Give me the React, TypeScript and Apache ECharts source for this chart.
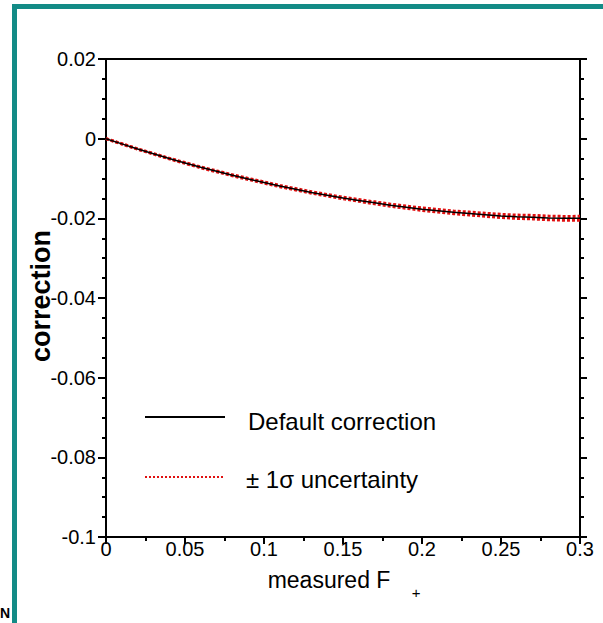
import React, { useEffect, useRef } from "react";
import * as echarts from "echarts";

const xValues = [0, 0.01, 0.02, 0.03, 0.04, 0.05, 0.06, 0.07, 0.08, 0.09, 0.1, 0.11, 0.12, 0.13, 0.14, 0.15, 0.16, 0.17, 0.18, 0.19, 0.2, 0.21, 0.22, 0.23, 0.24, 0.25, 0.26, 0.27, 0.28, 0.29, 0.3];
const correction = [0, -0.0013, -0.0026, -0.0038, -0.005, -0.0061, -0.0072, -0.0082, -0.0092, -0.0101, -0.011, -0.0119, -0.0127, -0.0135, -0.0142, -0.0149, -0.0155, -0.0161, -0.0167, -0.0172, -0.0177, -0.0181, -0.0185, -0.0188, -0.0191, -0.0194, -0.0196, -0.0197, -0.0199, -0.02, -0.02];
const sigma = [0, 0.00003, 0.00005, 0.00007, 0.00008, 0.0001, 0.00011, 0.00012, 0.00013, 0.00014, 0.00015, 0.00016, 0.00017, 0.00018, 0.00019, 0.0002, 0.00022, 0.00024, 0.00026, 0.00028, 0.0003, 0.00032, 0.00034, 0.00036, 0.00038, 0.0004, 0.00042, 0.00044, 0.00046, 0.00048, 0.0005];
const legendLabels = ["Default correction", "\u00b1 1\u03c3 uncertainty"];
const xTitle = "measured F";
const yTitle = "correction";

const FONT = "'Liberation Sans', Arial, Helvetica, sans-serif";

export default function App() {
  const ref = useRef<HTMLDivElement>(null);
  useEffect(() => {
    document.body.style.margin = "0";
    const chart = echarts.init(ref.current!, null, { renderer: "svg" });
    const main = xValues.map((x, i) => [x, correction[i]]);
    const upper = xValues.map((x, i) => [x, correction[i] + sigma[i]]);
    const lower = xValues.map((x, i) => [x, correction[i] - sigma[i]]);
    const axisBase = {
      type: "value" as const,
      splitLine: { show: false },
      axisLine: { show: true, onZero: false, lineStyle: { color: "#000", width: 2 } },
    };
    chart.setOption({
      animation: false,
      backgroundColor: "#fff",
      grid: { left: 106, top: 59, right: 23, bottom: 86 },
      xAxis: [
        {
          ...axisBase,
          position: "bottom",
          min: 0,
          max: 0.3,
          interval: 0.05,
          axisTick: { show: true, inside: false, length: 7, lineStyle: { color: "#000", width: 2 } },
          minorTick: { show: true, splitNumber: 2, length: 4, lineStyle: { color: "#000", width: 2 } },
          axisLabel: { color: "#000", fontSize: 20, fontFamily: FONT, margin: 2 },
        },
        {
          ...axisBase,
          position: "top",
          min: 0,
          max: 0.3,
          interval: 0.05,
          axisTick: { show: false },
          axisLabel: { show: false },
        },
      ],
      yAxis: [
        {
          ...axisBase,
          position: "left",
          min: -0.1,
          max: 0.02,
          interval: 0.02,
          axisTick: { show: true, inside: false, length: 8, lineStyle: { color: "#000", width: 2 } },
          minorTick: { show: true, splitNumber: 4, length: 4, lineStyle: { color: "#000", width: 2 } },
          axisLabel: { color: "#000", fontSize: 20, fontFamily: FONT, margin: 10 },
        },
        {
          ...axisBase,
          position: "right",
          min: -0.1,
          max: 0.02,
          interval: 0.02,
          axisTick: { show: true, inside: false, length: 7, lineStyle: { color: "#000", width: 2 } },
          minorTick: { show: true, splitNumber: 4, length: 4, lineStyle: { color: "#000", width: 2 } },
          axisLabel: { show: false },
        },
      ],
      series: [
        {
          name: legendLabels[1],
          type: "line",
          data: upper,
          showSymbol: false,
          lineStyle: { color: "#e01010", width: 3, type: [3, 2] },
          z: 2,
        },
        {
          name: legendLabels[1] + " (lower)",
          type: "line",
          data: lower,
          showSymbol: false,
          lineStyle: { color: "#e01010", width: 3, type: [3, 2] },
          z: 2,
        },
        {
          name: legendLabels[0],
          type: "line",
          data: main,
          showSymbol: false,
          lineStyle: { color: "#000", width: 1.5 },
          z: 3,
        },
      ],
      graphic: [
        {
          type: "rect",
          shape: { x: 14.5, y: 6.5, width: 700, height: 700 },
          style: { fill: "none", stroke: "#138b86", lineWidth: 5 },
          silent: true,
        },
        {
          type: "text",
          x: 0,
          y: 606,
          style: { text: "N", fontSize: 14, fontWeight: "bold", fontFamily: FONT, fill: "#000" },
        },
        {
          type: "text",
          x: 41,
          y: 296,
          rotation: Math.PI / 2,
          style: {
            text: yTitle,
            fontSize: 27,
            fontWeight: "bold",
            fontFamily: FONT,
            fill: "#000",
            align: "center",
            verticalAlign: "middle",
          },
        },
        {
          type: "text",
          x: 329,
          y: 580,
          style: {
            text: xTitle,
            fontSize: 23,
            fontFamily: FONT,
            fill: "#000",
            align: "center",
            verticalAlign: "middle",
          },
        },
        {
          type: "text",
          x: 416,
          y: 592,
          style: {
            text: "+",
            fontSize: 15,
            fontFamily: FONT,
            fill: "#000",
            align: "center",
            verticalAlign: "middle",
          },
        },
        {
          type: "line",
          shape: { x1: 145, y1: 417, x2: 225, y2: 417 },
          style: { stroke: "#000", lineWidth: 2 },
        },
        {
          type: "text",
          x: 248,
          y: 421,
          style: {
            text: legendLabels[0],
            fontSize: 24,
            fontFamily: FONT,
            fill: "#000",
            verticalAlign: "middle",
          },
        },
        {
          type: "line",
          shape: { x1: 145, y1: 477, x2: 223, y2: 477 },
          style: { stroke: "#e01010", lineWidth: 2, lineDash: [2, 2] },
        },
        {
          type: "text",
          x: 246,
          y: 479,
          style: {
            text: legendLabels[1],
            fontSize: 24,
            fontFamily: FONT,
            fill: "#000",
            verticalAlign: "middle",
          },
        },
      ],
    });
    return () => chart.dispose();
  }, []);
  return <div ref={ref} style={{ width: 603, height: 623 }} />;
}
